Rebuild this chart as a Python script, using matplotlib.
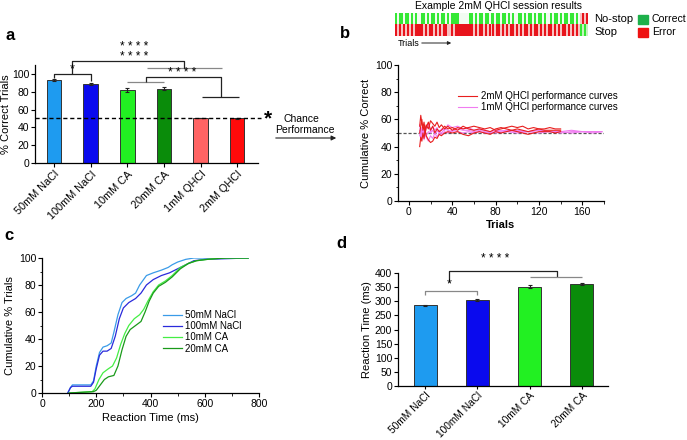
import numpy as np
import matplotlib
matplotlib.use('Agg')
import matplotlib.pyplot as plt
from matplotlib.ticker import MultipleLocator
from matplotlib.colors import to_rgb

plt.rcParams['font.family'] = ['Liberation Sans', 'DejaVu Sans']
plt.rcParams['font.size'] = 7.5
plt.rcParams['axes.labelsize'] = 8
plt.rcParams['axes.linewidth'] = 0.9
plt.rcParams['xtick.major.size'] = 3
plt.rcParams['ytick.major.size'] = 3
plt.rcParams['xtick.minor.size'] = 1.8
plt.rcParams['ytick.minor.size'] = 1.8
plt.rcParams['xtick.major.pad'] = 1.5
plt.rcParams['ytick.major.pad'] = 1.2

W, H = 687, 440

# ---- panel a: accuracy per tastant
acc_groups = ['50mM NaCl', '100mM NaCl', '10mM CA', '20mM CA', '1mM QHCl', '2mM QHCl']
acc_mean = [93, 89, 82, 83.5, 50.5, 50]
acc_err = [1.5, 1.0, 2.5, 2.0, 0.4, 1.0]
acc_colors = ['#1E9BF0', '#0A0AEE', '#22F022', '#0A8C0A', '#FF6464', '#FF0A0A']

# ---- panel b: example session raster (G/w = no-stop row, R/r = stop row)
row_nostop = ("GwGGwGGwGwG" "ww" "GGwGwGGwGwGGwGwGGGG" "wwwww"
              "GGwGwGGwGGwGwGGwGGwGwGwwGGwGwGGwGwGGwGwwGwGGwGwG"
              "GwGGwGw" "rRrR")
row_stop = ("RrRrRrRrRr" "RRRR" "rRrRRrRrRrRRrrRrR" "RRRRRRRR"
            "rRrRRrRrRrRrRRrRrRrRRrRrRrRRrRrRRrRrRrRRrRrRrRR"
            "rRrRrRr" "GgGg")

# ---- panel b: cumulative % correct curves
trials_2mM = [10, 11, 12, 13, 14, 15, 16, 18, 20, 22, 24, 26, 28, 30, 33, 36, 40, 45, 50,
              55, 60, 65, 70, 75, 80, 85, 90, 95, 100, 105, 110, 115, 120, 125, 130, 135, 140]
curve_2mM_a = [55, 63, 57, 54, 58, 52, 56, 53, 59, 57, 55, 58, 54, 56, 53, 55, 52, 54, 53,
               54, 55, 54, 53, 54, 52, 53, 54, 55, 54, 55, 53, 54, 53, 53, 54, 53, 53]
curve_2mM_b = [40, 47, 44, 50, 46, 52, 48, 45, 43, 44, 47, 46, 49, 48, 50, 51, 50, 51, 49,
               48, 50, 51, 50, 49, 51, 50, 51, 52, 51, 50, 49, 50, 51, 51, 51, 50, 51]
curve_2mM_c = [50, 55, 60, 52, 55, 50, 54, 58, 52, 55, 50, 53, 51, 52, 55, 53, 54, 52, 55,
               53, 52, 53, 52, 51, 53, 54, 53, 52, 53, 52, 51, 52, 53, 52, 52, 52, 52]
trials_1mM = [10, 11, 12, 13, 14, 15, 16, 18, 20, 22, 24, 26, 28, 30, 33, 36, 40, 45, 50,
              55, 60, 65, 70, 75, 80, 90, 100, 110, 120, 130, 140, 150, 160, 170, 178]
curve_1mM_a = [56, 50, 54, 48, 55, 50, 53, 57, 51, 55, 52, 54, 50, 53, 52, 56, 54, 55, 53,
               54, 52, 53, 52, 51, 52, 51, 52, 51, 52, 51, 51, 52, 51, 51, 51]
curve_1mM_b = [48, 52, 46, 51, 45, 49, 47, 44, 48, 46, 50, 47, 50, 49, 51, 50, 52, 51, 50,
               51, 50, 51, 50, 51, 50, 51, 50, 51, 50, 51, 51, 50, 51, 51, 51]
curve_1mM_c = [52, 45, 50, 53, 49, 52, 48, 51, 50, 52, 49, 51, 52, 50, 53, 52, 51, 53, 52,
               52, 51, 52, 51, 50, 51, 52, 51, 51, 52, 51, 50, 51, 51, 50, 51]

# ---- panel c: reaction time distributions
rt_50nacl = [95, 105, 112, 180, 190, 200, 212, 225, 240, 255, 265, 280, 295, 310, 330, 345,
             360, 385, 410, 440, 465, 480, 500, 530, 560, 600, 680, 760]
cum_50nacl = [0, 4, 6, 6, 9, 20, 30, 34, 35, 37, 45, 58, 67, 70, 72, 74,
              80, 87, 89, 91, 93, 95, 97, 99, 100, 100, 100, 100]
rt_100nacl = [95, 105, 112, 180, 190, 200, 212, 225, 240, 255, 270, 285, 300, 320, 345, 365,
              385, 410, 440, 470, 500, 530, 560, 600, 680, 760]
cum_100nacl = [0, 4, 5, 5, 8, 18, 28, 31, 31, 33, 42, 55, 63, 67, 70, 74,
               80, 84, 87, 89, 92, 95, 98, 99, 99.5, 100]
rt_10ca = [100, 185, 195, 210, 225, 245, 260, 275, 290, 305, 320, 340, 360, 375, 390, 410,
           430, 455, 480, 510, 540, 570, 610, 660, 760]
cum_10ca = [0, 1, 3, 10, 15, 18, 20, 26, 36, 44, 50, 55, 58, 62, 68, 75,
            80, 83, 87, 93, 96, 98, 99, 100, 100]
rt_20ca = [100, 190, 200, 215, 230, 245, 265, 280, 295, 310, 325, 345, 365, 380, 395, 410,
           430, 455, 480, 510, 540, 570, 610, 680, 760]
cum_20ca = [0, 1, 2, 6, 10, 12, 13, 20, 32, 42, 47, 50, 53, 60, 68, 74,
            79, 82, 86, 92, 96, 98, 99, 100, 100]

# ---- panel d: mean reaction time
rt_groups = ['50mM NaCl', '100mM NaCl', '10mM CA', '20mM CA']
rt_mean = [285, 305, 352, 362]
rt_err = [3, 3, 5, 3]
rt_colors = acc_colors[:4]


def box(l, t, r, b):
    return [l / W, 1 - b / H, (r - l) / W, (b - t) / H]


def ftext(x, y, s, **kw):
    fig.text(x / W, 1 - y / H, s, **kw)


def seg(ax, xs, ys, color='#222222'):
    ax.plot(xs, ys, color=color, lw=0.9, clip_on=False, solid_capstyle='butt')


def style(ax):
    ax.spines['top'].set_visible(False)
    ax.spines['right'].set_visible(False)


fig = plt.figure(figsize=(W / 100, H / 100), dpi=100)

# ================= a
ax = fig.add_axes(box(35, 65, 258, 163))
style(ax)
xa = np.arange(len(acc_groups))
ax.bar(xa, acc_mean, width=0.4, color=acc_colors, edgecolor='#333333', linewidth=0.7,
       yerr=acc_err, capsize=1.5, error_kw=dict(elinewidth=0.8, capthick=0.8, ecolor='#222222'))
ax.set_xlim(-0.52, 5.57)
ax.set_ylim(0, 110)
ax.set_yticks(range(0, 101, 20))
ax.set_xticks(xa)
ax.set_xticklabels(acc_groups, rotation=45, ha='right', rotation_mode='anchor', fontsize=7.8)
ax.set_ylabel('% Correct Trials', labelpad=0.5)
ax.plot([-0.52, 5.65], [50, 50], '--', color='k', lw=1, clip_on=False, dashes=(3, 2))
# significance
seg(ax, [0, 0, 1, 1], [95.5, 100, 100, 91.5])
ax.text(0.5, 98.5, '*', ha='center', va='bottom', fontsize=9)
seg(ax, [2, 3], [91, 91], '#888888')
seg(ax, [2.5, 2.5, 4.55, 4.55], [91, 96.6, 96.6, 74])
seg(ax, [4.05, 5.05], [74, 74])
ax.text(3.5, 94.5, '* * * *', ha='center', va='bottom', fontsize=8.5)
seg(ax, [2.53, 4.6], [106.7, 106.7], '#888888')
seg(ax, [0.5, 0.5, 3.56, 3.56], [100, 114.6, 114.6, 106.7])
ax.text(2.2, 112.5, '* * * *\n* * * *', ha='center', va='bottom', fontsize=8.5, linespacing=0.75)

ftext(5, 40, 'a', fontsize=12, fontweight='bold')
ftext(268, 124, '*', fontsize=15, fontweight='bold', ha='center')
ftext(301, 122, 'Chance', ha='center', fontsize=7.5)
ftext(305, 133, 'Performance', ha='center', fontsize=7.5)
fig.add_artist(matplotlib.patches.FancyArrowPatch((273 / W, 1 - 138 / H), (339 / W, 1 - 138 / H),
                                                  transform=fig.transFigure, arrowstyle='-|>',
                                                  mutation_scale=7, lw=0.8, color='#222222'))

# ================= b raster
ftext(340, 38, 'b', fontsize=12, fontweight='bold')
ftext(499, 9, 'Example 2mM QHCl session results', ha='center', fontsize=7.5)
axr = fig.add_axes(box(395, 13, 588, 36))
axr.axis('off')
cmap = {'G': '#35E835', 'w': '#F2FBF2', 'R': '#E8141C', 'r': '#F7C2C2', 'g': '#C8F0C0'}
img_top = np.array([[to_rgb(cmap[c]) for c in row_nostop]])
img_bot = np.array([[to_rgb(cmap[c]) for c in row_stop]])
axr.imshow(img_top, extent=[0, 1, 0.52, 1], aspect='auto', interpolation='nearest')
axr.imshow(img_bot, extent=[0, 1, 0, 0.48], aspect='auto', interpolation='nearest')
axr.set_xlim(0, 1)
axr.set_ylim(0, 1)
ftext(594, 22, 'No-stop', fontsize=8)
ftext(594, 35, 'Stop', fontsize=8)
fig.add_artist(matplotlib.patches.Rectangle((638 / W, 1 - 24 / H), 10 / W, 9 / H,
                                            transform=fig.transFigure, color='#1DB04A'))
fig.add_artist(matplotlib.patches.Rectangle((638 / W, 1 - 37 / H), 10 / W, 9 / H,
                                            transform=fig.transFigure, color='#EE1111'))
ftext(652, 22, 'Correct', fontsize=7.6)
ftext(652, 35, 'Error', fontsize=7.6)
ftext(398, 46, 'Trials', fontsize=6.5)
fig.add_artist(matplotlib.patches.FancyArrowPatch((419 / W, 1 - 43 / H), (454 / W, 1 - 43 / H),
                                                  transform=fig.transFigure, arrowstyle='-|>',
                                                  mutation_scale=5, lw=0.7, color='#222222'))

# ================= b curves
axb = fig.add_axes(box(398, 65, 604, 201))
style(axb)
axb.axhline(50, color='#555555', lw=0.9, ls=(0, (2.5, 1.5)), zorder=1)
for i, cv in enumerate([curve_1mM_a, curve_1mM_b, curve_1mM_c]):
    axb.plot(trials_1mM, cv, color='#F07CF0', lw=0.8,
             label='1mM QHCl performance curves' if i == 0 else None, zorder=2)
for i, cv in enumerate([curve_2mM_a, curve_2mM_b, curve_2mM_c]):
    axb.plot(trials_2mM, cv, color='#E81E1E', lw=0.8,
             label='2mM QHCl performance curves' if i == 0 else None, zorder=3)
axb.set_xlim(-10, 180)
axb.set_ylim(0, 100)
axb.set_xticks(range(0, 161, 40))
axb.set_yticks(range(0, 101, 20))
axb.xaxis.set_minor_locator(MultipleLocator(20))
axb.yaxis.set_minor_locator(MultipleLocator(10))
axb.set_xlabel('Trials', fontweight='bold', labelpad=2)
axb.set_ylabel('Cumulative % Correct', labelpad=3)
h, l = axb.get_legend_handles_labels()
axb.legend(h[::-1], l[::-1], loc='upper left', bbox_to_anchor=(458 / W, 1 - 91 / H),
           bbox_transform=fig.transFigure, frameon=False, fontsize=7, handlelength=2,
           handletextpad=0.4, labelspacing=0.15, borderpad=0, borderaxespad=0)

# ================= c
ftext(4, 240, 'c', fontsize=12, fontweight='bold')
axc = fig.add_axes(box(42, 258, 259, 393))
style(axc)
axc.plot(rt_50nacl, cum_50nacl, color='#3A9BE8', lw=0.9, label='50mM NaCl')
axc.plot(rt_100nacl, cum_100nacl, color='#2A2ADB', lw=0.9, label='100mM NaCl')
axc.plot(rt_10ca, cum_10ca, color='#44EE44', lw=0.9, label='10mM CA')
axc.plot(rt_20ca, cum_20ca, color='#1A9A1A', lw=0.9, label='20mM CA')
axc.set_xlim(0, 800)
axc.set_ylim(0, 100)
axc.set_xticks(range(0, 801, 200))
axc.set_yticks(range(0, 101, 20))
axc.xaxis.set_minor_locator(MultipleLocator(100))
axc.yaxis.set_minor_locator(MultipleLocator(10))
axc.set_xlabel('Reaction Time (ms)', labelpad=3)
axc.set_ylabel('Cumulative % Trials', labelpad=3)
axc.legend(loc='upper left', bbox_to_anchor=(163 / W, 1 - 310 / H), bbox_transform=fig.transFigure,
           frameon=False, fontsize=7, handlelength=2, handletextpad=0.3, labelspacing=0.12,
           borderpad=0, borderaxespad=0)

# ================= d
ftext(336, 248, 'd', fontsize=12, fontweight='bold')
axd = fig.add_axes(box(398, 273, 608, 386))
style(axd)
xd = np.arange(len(rt_groups))
axd.bar(xd, rt_mean, width=0.44, color=rt_colors, edgecolor='#333333', linewidth=0.7,
        yerr=rt_err, capsize=1.5, error_kw=dict(elinewidth=0.8, capthick=0.8, ecolor='#222222'))
axd.set_xlim(-0.52, 3.5)
axd.set_ylim(0, 400)
axd.set_yticks(range(0, 401, 50))
axd.set_xticks(xd)
axd.tick_params(axis='x', length=2.5, pad=1)
axd.set_xticklabels(rt_groups, rotation=45, ha='right', rotation_mode='anchor', fontsize=7.3)
axd.set_ylabel('Reaction Time (ms)', labelpad=2)
seg(axd, [0, 0, 1, 1], [322, 336, 336, 322], '#888888')
axd.text(0.46, 338, '*', ha='center', va='bottom', fontsize=9)
seg(axd, [0.46, 0.46, 2.52, 2.52], [367, 407, 407, 386])
seg(axd, [2, 3], [386, 386], '#888888')
axd.text(1.34, 428, '* * * *', ha='center', va='bottom', fontsize=8.5)

fig.savefig('out.png', dpi=100)
